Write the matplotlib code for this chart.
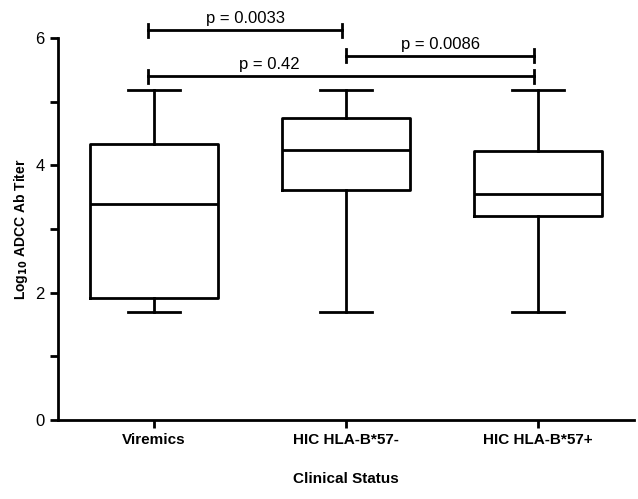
import matplotlib
matplotlib.use("Agg")
import matplotlib.pyplot as plt
from matplotlib.ticker import MultipleLocator

plt.rcParams['font.family'] = ['Liberation Sans', 'DejaVu Sans']

groups = ["Viremics", "HIC HLA-B*57-", "HIC HLA-B*57+"]
whislo = [1.70, 1.70, 1.70]
q1 = [1.91, 3.61, 3.20]
med = [3.39, 4.24, 3.55]
q3 = [4.34, 4.75, 4.23]
whishi = [5.19, 5.19, 5.19]

# comparisons: (left group, right group, bar height, label)
comparisons = [(1, 2, 6.12, "p = 0.0033"),
               (2, 3, 5.72, "p = 0.0086"),
               (1, 3, 5.40, "p = 0.42")]

stats = []
for i in range(len(groups)):
    stats.append(dict(whislo=whislo[i], q1=q1[i], med=med[i], q3=q3[i],
                      whishi=whishi[i], fliers=[], label=groups[i]))

fig = plt.figure(figsize=(6.38, 4.99), dpi=100)
ax = fig.add_axes([0.091, 0.158, 0.903, 0.766])
lw = 2
ax.bxp(stats, positions=[1, 2, 3], widths=0.67, showfliers=False,
       boxprops=dict(linewidth=lw), whiskerprops=dict(linewidth=lw),
       capprops=dict(linewidth=lw), medianprops=dict(color='black', linewidth=lw),
       capwidths=0.27)

for a, b, h, lab in comparisons:
    x0, x1 = a - 0.03, b - 0.02
    if a == 2:
        x0 = a
    ax.plot([x0, x1], [h, h], color='black', lw=lw, clip_on=False)
    for x in (x0, x1):
        ax.plot([x, x], [h - 0.1, h + 0.1], color='black', lw=lw, clip_on=False)
    ax.text((x0 + x1) / 2 if a != 1 or b != 3 else 1.6, h + 0.06, lab,
            ha='center', va='bottom', fontsize=12, clip_on=False)

ax.set_xlim(0.5, 3.5)
ax.set_ylim(0, 6)
ax.yaxis.set_major_locator(MultipleLocator(2))
ax.yaxis.set_minor_locator(MultipleLocator(1))
ax.spines['top'].set_visible(False)
ax.spines['right'].set_visible(False)
ax.spines['left'].set_linewidth(2)
ax.spines['bottom'].set_linewidth(2)
ax.tick_params(axis='both', which='both', width=2, direction='out')
ax.tick_params(axis='both', which='major', length=6)
ax.tick_params(axis='y', which='minor', length=6)
ax.tick_params(axis='y', labelsize=12)
ax.set_xticks([1, 2, 3])
ax.set_xticklabels(groups, fontsize=11, fontweight='bold')
ax.set_xlabel("Clinical Status", fontsize=11, fontweight='bold', labelpad=18)
ax.set_ylabel(r"Log$_{\mathbf{10}}$ ADCC Ab Titer", fontsize=10, fontweight='bold')

fig.savefig("out.png", dpi=100)
